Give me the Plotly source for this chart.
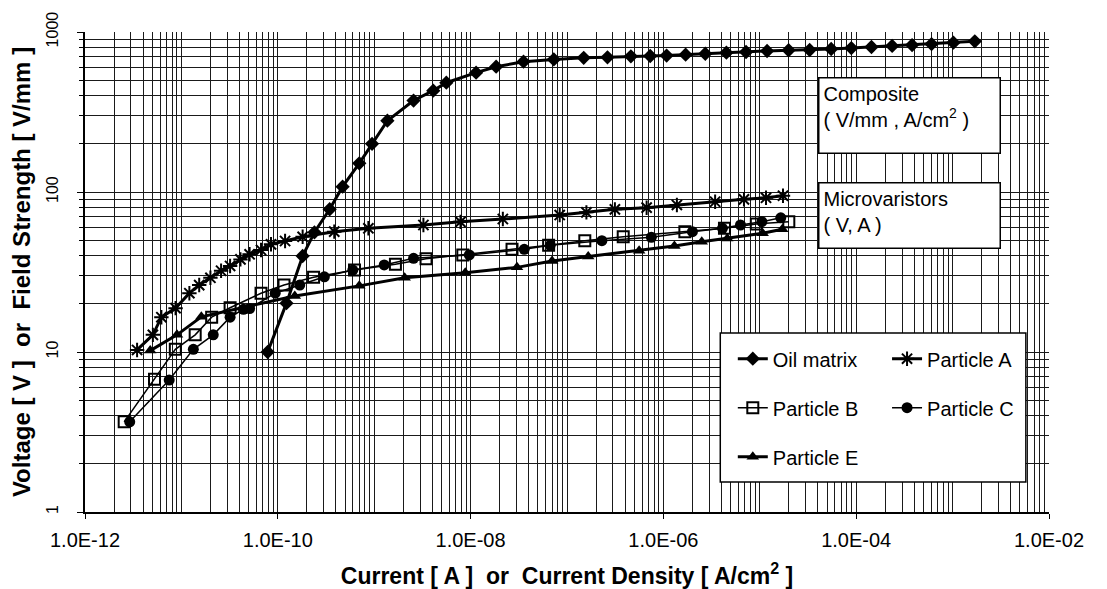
import plotly.graph_objects as go

# ---------------- data ----------------
oil_x = [7.85e-11, 1.23e-10, 1.81e-10, 2.4e-10, 3.45e-10, 4.7e-10, 7.0e-10, 9.5e-10, 1.37e-9,
         2.56e-9, 4.1e-9, 5.6e-9, 1.14e-8, 1.84e-8, 3.54e-8, 7.3e-8, 1.49e-7, 2.63e-7, 4.6e-7,
         7.3e-7, 1.08e-6, 1.7e-6, 2.72e-6, 4.5e-6, 7.2e-6, 1.19e-5, 1.99e-5, 3.29e-5, 5.5e-5,
         8.9e-5, 1.44e-4, 2.36e-4, 3.8e-4, 6.05e-4, 1.02e-3, 1.7e-3]
oil_y = [10, 20.2, 39.8, 56, 78, 108, 151, 200, 279, 373, 430, 482, 557, 607, 652, 674, 690, 695,
         705, 708, 712, 722, 731, 743, 750, 761, 769, 772, 783, 794, 806, 818, 829, 841, 858, 875]

a_x = [3.47e-12, 5.06e-12, 6.2e-12, 8.7e-12, 1.21e-11, 1.53e-11, 2.0e-11, 2.58e-11, 3.2e-11,
       4.1e-11, 5.1e-11, 6.7e-11, 8.5e-11, 1.19e-10, 1.81e-10, 3.85e-10, 8.7e-10, 3.24e-9,
       7.85e-9, 2.16e-8, 8.4e-8, 1.59e-7, 3.14e-7, 6.7e-7, 1.38e-6, 3.44e-6, 6.85e-6, 1.16e-5,
       1.74e-5]
a_y = [10.3, 12.8, 16.5, 18.8, 23.3, 26.2, 29.1, 32.2, 34.5, 37.9, 40.8, 43.4, 47.1, 49.4, 52.5,
       56.5, 59.3, 62.2, 65.1, 67.8, 71.8, 74.6, 77.9, 79.8, 83, 86.9, 90, 92, 94.8]

b_x = [2.55e-12, 5.26e-12, 8.65e-12, 1.39e-11, 2.06e-11, 3.2e-11, 6.7e-11, 1.16e-10, 2.35e-10,
       6.25e-10, 1.66e-9, 3.45e-9, 8.3e-9, 2.69e-8, 6.45e-8, 1.53e-7, 3.83e-7, 1.67e-6, 4.3e-6,
       9.2e-6, 2.0e-5]
b_y = [3.66, 6.75, 10.4, 12.8, 16.5, 18.9, 23.3, 26.2, 29.3, 32.6, 35.3, 38.3, 40.4, 43.8, 46.4,
       49.6, 52.6, 56.5, 59.3, 63.1, 65.2]

c_x = [2.91e-12, 7.47e-12, 1.33e-11, 2.14e-11, 3.2e-11, 4.4e-11, 5.1e-11, 9.4e-11, 1.69e-10,
       3.04e-10, 6.0e-10, 1.27e-9, 2.56e-9, 9.7e-9, 3.6e-8, 6.7e-8, 2.3e-7, 7.5e-7, 2.0e-6,
       4.1e-6, 6.3e-6, 1.05e-5, 1.65e-5]
c_y = [3.66, 6.68, 10.4, 12.8, 16.5, 18.5, 18.7, 23.3, 26.2, 29.5, 32.5, 35, 38.5, 40.4, 43.8,
       46.4, 49.6, 52.1, 56.5, 59.3, 62.2, 65.2, 69]

e_x = [4.75e-12, 9.0e-12, 1.61e-11, 1.5e-10, 7.0e-10, 2.07e-9, 8.8e-9, 3.03e-8, 7.0e-8, 1.66e-7,
       5.6e-7, 1.3e-6, 2.5e-6, 4.6e-6, 1.07e-5, 1.71e-5]
e_y = [10.2, 12.8, 16.6, 22.4, 25.9, 29.1, 31.3, 33.8, 37.1, 39.5, 42.9, 46, 48.8, 51.3, 55.2, 58.5]

x_tick_vals = [1e-12, 1e-10, 1e-8, 1e-6, 1e-4, 1e-2]
x_tick_text = ["1.0E-12", "1.0E-10", "1.0E-08", "1.0E-06", "1.0E-04", "1.0E-02"]
y_tick_vals = [1, 10, 100, 1000]
y_tick_text = ["1", "10", "100", "1000"]

# minor grid positions (log decades)
x_minor = [k * 10.0 ** d for d in range(-12, -2) for k in range(1, 10)]
x_minor = [v for v in x_minor if all(abs(v - t) / t > 1e-6 for t in x_tick_vals)]
y_minor = [k * 10.0 ** d for d in range(0, 3) for k in range(2, 10)]

FONT = "Arial, Liberation Sans, sans-serif"
BLACK = "#000000"
SP = "\u00a0"

fig = go.Figure()

series = [
    ("Oil matrix", oil_x, oil_y, "diamond", 11, 3, "legend"),
    ("Particle A", a_x, a_y, "asterisk-open", 12, 3, "legend2"),
    ("Particle B", b_x, b_y, "square-open", 11, 1.5, "legend"),
    ("Particle C", c_x, c_y, "circle", 11, 1.5, "legend2"),
    ("Particle E", e_x, e_y, "triangle-up", 11, 3, "legend"),
]
for name, xs, ys, sym, size, lw, leg in series:
    fig.add_trace(go.Scatter(
        x=xs, y=ys, name=name, mode="lines+markers", legend=leg, legendgroup=name,
        line=dict(color=BLACK, width=lw),
        marker=dict(symbol=sym, size=size, color=BLACK,
                    line=dict(color=BLACK, width=2 if "open" in sym else 0)),
    ))

grid_col = "#1a1a1a"
fig.update_xaxes(
    type="log", range=[-12, -2], automargin=False,
    tickvals=x_tick_vals, ticktext=x_tick_text,
    ticks="outside", ticklen=5, tickcolor=BLACK, ticklabelstandoff=4,
    showgrid=True, gridcolor=grid_col, gridwidth=1,
    minor=dict(tickvals=x_minor, showgrid=True, gridcolor=grid_col, gridwidth=1, ticks=""),
    showline=True, linecolor=BLACK, linewidth=2,
    tickfont=dict(family=FONT, size=20, color=BLACK),
    title=dict(text=f"<b>Current [ A ] {SP}or{SP} Current Density [ A/cm<sup>2</sup> ]</b>",
               font=dict(family=FONT, size=23, color=BLACK), standoff=18),
    zeroline=False,
)
fig.update_yaxes(
    type="log", range=[0, 3], automargin=False,
    tickvals=y_tick_vals, ticktext=y_tick_text, tickangle=-90,
    ticks="outside", ticklen=6, tickcolor=BLACK, ticklabelstandoff=13,
    showgrid=True, gridcolor=grid_col, gridwidth=1,
    minor=dict(tickvals=y_minor, showgrid=True, gridcolor=grid_col, gridwidth=1,
               ticks="outside", ticklen=4, tickcolor=BLACK),
    showline=True, linecolor=BLACK, linewidth=2,
    tickfont=dict(family=FONT, size=16, color=BLACK),
    title=dict(text=f"<b>Voltage [ V ] {SP}or{SP} Field Strength [ V/mm ]</b>",
               font=dict(family=FONT, size=24, color=BLACK), standoff=22),
    zeroline=False,
)

leg_common = dict(bgcolor="rgba(0,0,0,0)", borderwidth=0, xanchor="left", yanchor="top",
                  font=dict(family=FONT, size=20, color=BLACK), tracegroupgap=20,
                  traceorder="grouped")
fig.update_layout(
    width=1099, height=581,
    margin=dict(l=77, r=58, t=24, b=77, autoexpand=False),
    paper_bgcolor="white", plot_bgcolor="white",
    legend=dict(x=0.672, y=0.36, **leg_common),
    legend2=dict(x=0.832, y=0.36, **leg_common),
    showlegend=True,
)

# legend frame
fig.add_shape(type="rect", xref="paper", yref="paper", x0=0.659, x1=0.976, y0=0.0625, y1=0.373,
              line=dict(color=BLACK, width=1.5), fillcolor="white", layer="above")

# unit boxes
box_font = dict(family=FONT, size=20, color=BLACK)
fig.add_annotation(xref="paper", yref="paper", x=0.760, y=0.906, xanchor="left", yanchor="top",
                   text="Composite<br>( V/mm , A/cm<sup>2</sup> )", showarrow=False, align="left",
                   valign="top", width=172, height=66, borderpad=4, bordercolor=BLACK,
                   borderwidth=1.5, bgcolor="white", font=box_font)
fig.add_annotation(xref="paper", yref="paper", x=0.760, y=0.6875, xanchor="left", yanchor="top",
                   text="Microvaristors<br>( V, A )", showarrow=False, align="left",
                   valign="top", width=172, height=56, borderpad=4, bordercolor=BLACK,
                   borderwidth=1.5, bgcolor="white", font=box_font)

fig.write_html("out.html")
